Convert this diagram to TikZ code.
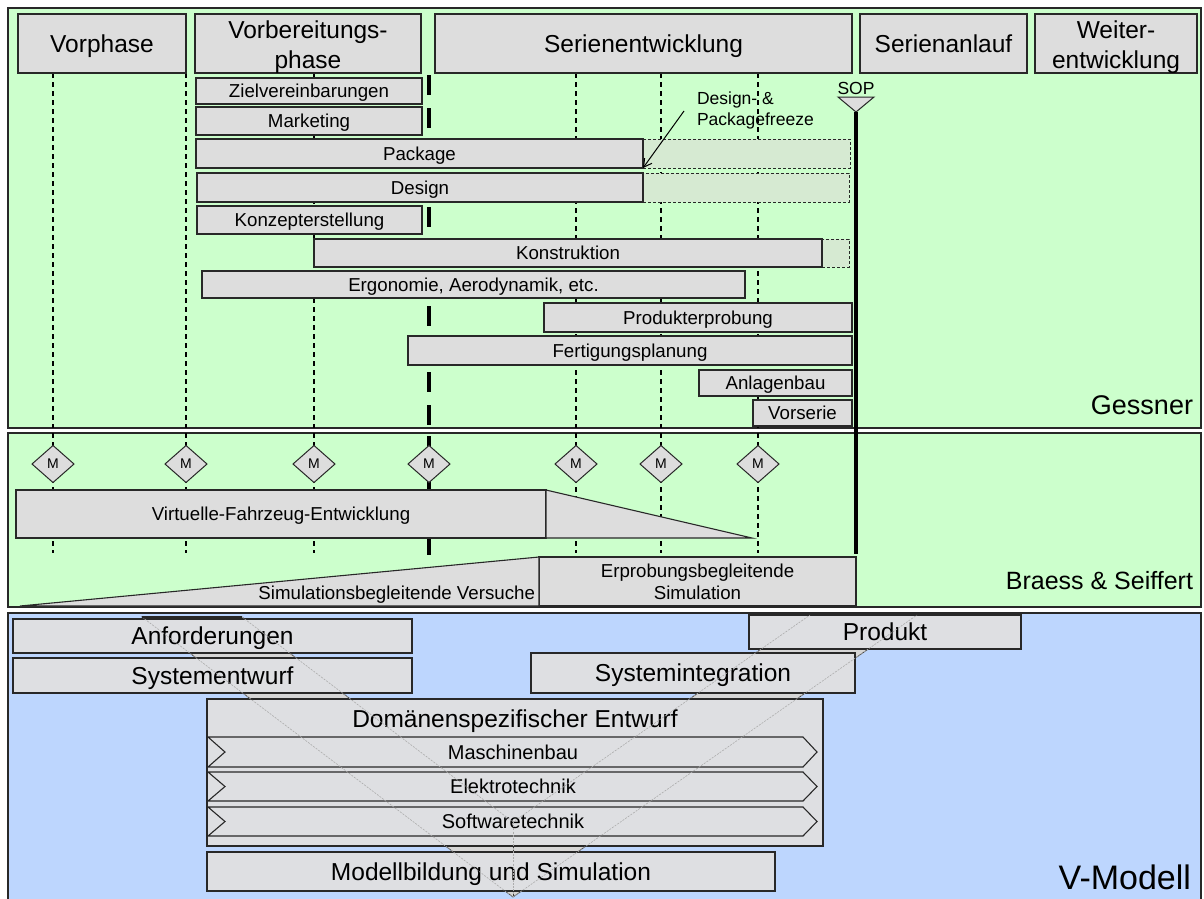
\documentclass[tikz,border=0pt]{standalone}
\usepackage{fontspec}
\setmainfont{Liberation Sans}
\usetikzlibrary{shapes.geometric,arrows.meta}

\definecolor{phasegreen}{RGB}{204,255,204}
\definecolor{vblue}{RGB}{189,214,254}
\definecolor{boxgray}{RGB}{221,221,221}
\definecolor{vboxgray}{RGB}{222,223,226}
\definecolor{frozenfill}{RGB}{214,234,210}
\definecolor{vband}{RGB}{214,214,214}
\definecolor{edgecol}{RGB}{40,40,40}

\newcommand\dgHead{\fontsize{24.5}{30}\selectfont}
\newcommand\dgBar{\fontsize{18.7}{22}\selectfont}
\newcommand\dgSmall{\fontsize{17.5}{21}\selectfont}
\newcommand\dgMile{\fontsize{14}{16}\selectfont}
\newcommand\dgChev{\fontsize{20}{24}\selectfont}

% box from (x1,y1) to (x2,y2), pixel-like coordinates, y downwards
\newcommand\dgbox[7][]{%
  \node[#1, minimum width={(#5-#3)*1pt}, minimum height={(#6-#4)*1pt}]
    (#2) at ({(#3+#5)/2},{(#4+#6)/2}) {#7};}

\begin{document}
\begin{tikzpicture}[x=1pt,y=-1pt,
  every node/.style={inner sep=0pt, outer sep=0pt},
  bar/.style={draw=edgecol, fill=boxgray, line width=1.1pt, font=\dgBar, align=center,
    text height=13.4pt, text depth=0pt},
  head/.style={bar, font=\dgHead, text height=17.5pt},
  twoline/.style={text height=50.5pt, text depth=0pt},
  natural/.style={text height={}, text depth={}},
  frz/.style={draw=edgecol, fill=frozenfill, line width=0.9pt, dash pattern=on 3pt off 2pt},
  tri/.style={draw=edgecol, fill=boxgray, line width=1.1pt},
  mile/.style={diamond, draw=edgecol, fill=boxgray, line width=1pt,
    minimum width=42pt, minimum height=37pt, font=\dgMile},
  guide/.style={draw=black, line width=1.1pt, dash pattern=on 5pt off 4pt},
  gate/.style={draw=black, line width=4.5pt, dash pattern=on 20pt off 13pt},
  section/.style={draw=edgecol, line width=1.2pt},
  seclabel/.style={anchor=east},
  vbox/.style={draw=edgecol, fill=vboxgray, line width=1.1pt, font=\dgHead,
    text height=17.5pt, text depth=0pt},
  chev/.style={draw=edgecol, fill=vboxgray, line width=1.1pt},
  vedge/.style={draw=gray!45!black, line width=0.7pt},
  vover/.style={draw=gray!65, line width=0.6pt, dash pattern=on 2pt off 1.2pt}]

\useasboundingbox (0,0) rectangle (1204,898);
\fill[white] (0,0) rectangle (1204,898);

% ---------- section backgrounds ----------
\draw[section, fill=phasegreen] (8,8) rectangle (1201,428);
\draw[section, fill=phasegreen] (8,433) rectangle (1201,607);
\draw[section, fill=vblue] (8,613) rectangle (1201,905);

% ---------- milestone guides ----------
\foreach \gx in {53,186,314,576,661,758}{
  \draw[guide] (\gx,73) -- (\gx,428);
  \draw[guide] (\gx,433) -- (\gx,553);
}
\draw[gate] (429,75) -- (429,428);
\draw[gate] (429,436) -- (429,562);

% ---------- phase headers ----------
\dgbox[head]{hVor}{18}{14}{186}{73}{Vorphase}
\dgbox[head, twoline]{hVorb}{195}{14}{421}{73}{Vorbereitungs-\\phase}
\dgbox[head]{hSer}{435}{14}{852}{73}{Serienentwicklung}
\dgbox[head]{hAnl}{860}{14}{1027}{73}{Serienanlauf}
\dgbox[head, twoline]{hWeit}{1035}{14}{1197}{73}{Weiter-\\entwicklung}

% ---------- activity bars (Gessner) ----------
\dgbox[bar]{ziel}{196}{78}{422}{104}{Zielvereinbarungen}
\dgbox[bar]{mkt}{196}{107}{422}{135}{Marketing}
\dgbox[frz]{pkgx}{643}{139}{850}{168}{}
\dgbox[bar]{pkg}{196}{139}{643}{168}{Package}
\dgbox[frz]{desx}{643}{173}{849}{202}{}
\dgbox[bar]{des}{197}{173}{643}{202}{Design}
\dgbox[bar]{konz}{197}{206}{422}{234}{Konzepterstellung}
\dgbox[frz]{konsx}{822}{239}{849}{267}{}
\dgbox[bar]{kons}{314}{239}{822}{267}{Konstruktion}
\dgbox[bar]{ergo}{202}{271}{745}{298}{Ergonomie, Aerodynamik, etc.}
\dgbox[bar]{prod}{544}{303}{852}{332}{Produkterprobung}
\dgbox[bar]{fert}{408}{336}{852}{365}{Fertigungsplanung}
\dgbox[bar]{anl}{699}{370}{852}{396}{Anlagenbau}
\dgbox[bar]{vors}{753}{400}{852}{426}{Vorserie}

% freeze note
\node[font=\dgSmall, align=left, anchor=west] (freeze) at (697,110.5) {Design- \&\\Packagefreeze};
\coordinate (freezeTail) at (684,111);
\draw[line width=1pt, -{Straight Barb[length=8pt,width=9pt]}] (freezeTail) -- (pkg.south east);

% start of production
\node[font=\dgSmall] (sop) at (856,88) {SOP};
\draw[tri, line width=1pt] (838,97) -- (874,97) -- (856,112) -- cycle;
\coordinate (sopTip) at (856,112);
\coordinate (sopEnd) at (856,554);
\draw[line width=4.5pt] (sopTip) -- (sopEnd);

\node[seclabel, font=\fontsize{27}{31}\selectfont, text height=19.3pt, text depth=0pt]
  (lblGessner) at (1193,405) {Gessner};

% ---------- Braess & Seiffert ----------
\foreach \mx [count=\mi] in {53,186,314,429,576,661,758}{
  \node[mile] (m\mi) at (\mx,464) {M};
}
\dgbox[bar]{vfe}{16}{490}{546}{538}{Virtuelle-Fahrzeug-Entwicklung}
\draw[tri] (vfe.north east) -- (752,538) -- (vfe.south east) -- cycle;

\dgbox[bar, natural]{ebs}{539}{557}{856}{606}{Erprobungsbegleitende\\Simulation}
\draw[tri] (20,606) -- (ebs.north west) -- (ebs.south west) -- cycle;
\node[font=\dgBar, anchor=east, text height=13.4pt, text depth=0pt] (sbv) at (535,593)
  {Simulationsbegleitende Versuche};

\node[seclabel, font=\fontsize{25}{29}\selectfont, text height=17.9pt, text depth=0pt]
  (lblBraess) at (1193,581) {Braess \& Seiffert};

% ---------- V-Modell ----------
\draw[vedge, fill=vband] (142,617) -- (242,617) -- (513,822) -- (810,615)
  -- (917,615) -- (513,897) -- cycle;
\draw[vedge] (513,822) -- (513,897);

\dgbox[vbox]{anf}{13}{619}{412}{653}{Anforderungen}
\dgbox[vbox]{sysent}{13}{658}{412}{693}{Systementwurf}
\dgbox[vbox]{produkt}{749}{615}{1021}{649}{Produkt}
\dgbox[vbox]{sysint}{531}{653}{855}{693}{Systemintegration}
\dgbox[vbox]{dom}{207}{699}{823}{846}{}
\node[font=\dgHead, text height=17.5pt, text depth=0pt] (domtxt) at (515,719)
  {Domänenspezifischer Entwurf};

\foreach \cname/\ctext/\cy/\ch in {mb/Maschinenbau/737/30, et/Elektrotechnik/772/29, st/Softwaretechnik/807/29}{
  \draw[chev] (208,\cy) -- (803,\cy) -- (817,\cy+\ch/2) -- (803,\cy+\ch)
    -- (208,\cy+\ch) -- (225,\cy+\ch/2) -- cycle;
  \node[font=\dgChev, text height=14.3pt, text depth=0pt] (\cname) at (513,\cy+\ch/2) {\ctext};
}
\dgbox[vbox]{mus}{207}{852}{775}{891}{Modellbildung und Simulation}

% V outline seen through the boxes
\draw[vover] (142,617) -- (513,897) -- (917,615);
\draw[vover] (242,617) -- (513,822) -- (810,615);
\draw[vover] (513,822) -- (513,897);
\draw[edgecol, line width=1.2pt] (142,617) -- (242,617);

\node[seclabel, font=\fontsize{34}{38}\selectfont, text height=24.3pt, text depth=0pt]
  (lblV) at (1191,877) {V-Modell};
\end{tikzpicture}
\end{document}
